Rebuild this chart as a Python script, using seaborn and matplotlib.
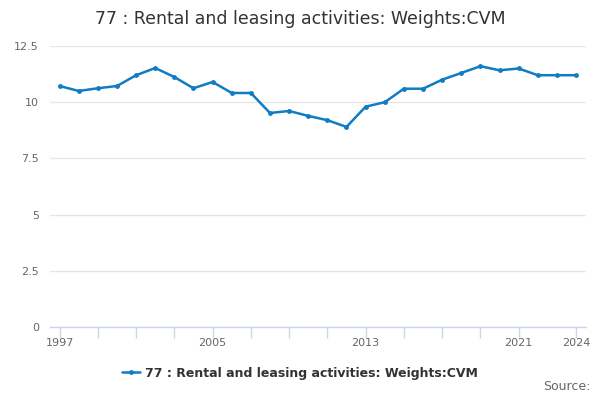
import numpy as np
import pandas as pd
import matplotlib
matplotlib.use("Agg")
import matplotlib.pyplot as plt
import seaborn as sns

years = list(range(1997, 2025))
values = [10.72, 10.5, 10.62, 10.72, 11.2, 11.52, 11.12, 10.62, 10.9, 10.41,
          10.41, 9.52, 9.61, 9.39, 9.2, 8.9, 9.8, 10.0, 10.6, 10.6,
          11.0, 11.3, 11.6, 11.42, 11.5, 11.2, 11.2, 11.2]
series_name = "77 : Rental and leasing activities: Weights:CVM"
y_ticks = [0, 2.5, 5, 7.5, 10, 12.5]
y_labels = ["0", "2.5", "5", "7.5", "10", "12.5"]
x_labels = [1997, 2005, 2013, 2021, 2024]

df = pd.DataFrame({"year": years, "value": values})

sns.set_style("white")
plt.rcParams['font.family'] = ['DejaVu Sans']

fig = plt.figure(figsize=(6, 4), dpi=100)
ax = fig.add_axes([50 / 600, 1 - 327 / 400, 536 / 600, 281 / 400])

line_col = "#0f7cc4"
sns.lineplot(data=df, x="year", y="value", ax=ax, color=line_col, linewidth=1.8,
             marker="o", markersize=3.5, markeredgewidth=0, label=series_name)

ax.set_ylim(0, 12.5)
ax.set_xlim(1997 - (59.6 - 50) / 19.15, 2024 + (586 - 576) / 19.15)
ax.set_yticks(y_ticks)
ax.set_yticklabels(y_labels)
ax.yaxis.grid(True, color="#e6e6e6", linewidth=1)
ax.set_axisbelow(True)

tick_pos = list(range(1997, 2022, 2)) + [2024]
ax.set_xticks(tick_pos)
ax.set_xticklabels([str(t) if t in x_labels else "" for t in tick_pos])
ax.tick_params(axis="x", bottom=True, direction="out", length=8, width=1,
               color="#ccd6eb", labelsize=8, labelcolor="#666666", pad=0)
ax.tick_params(axis="y", left=False, length=0, labelsize=8, labelcolor="#666666", pad=8)

for s in ["top", "right", "left"]:
    ax.spines[s].set_visible(False)
ax.spines["bottom"].set_color("#ccd6eb")
ax.spines["bottom"].set_linewidth(1)

ax.set_xlabel("")
ax.set_ylabel("")

fig.text(0.5, 1 - 19 / 400, "77 : Rental and leasing activities: Weights:CVM",
         ha="center", va="center", fontsize=12.5, color="#333333")

leg = ax.legend(loc="center", bbox_to_anchor=(0.5, 1 - 373 / 400),
                bbox_transform=fig.transFigure,
                frameon=False, fontsize=9, handlelength=1.5, handletextpad=0.4)
for t in leg.get_texts():
    t.set_color("#333333")
    t.set_fontweight("bold")

fig.text(590 / 600, 1 - 393 / 400, "Source:", ha="right", va="bottom",
         fontsize=9, color="#666666")

fig.savefig("out.png", dpi=100)
